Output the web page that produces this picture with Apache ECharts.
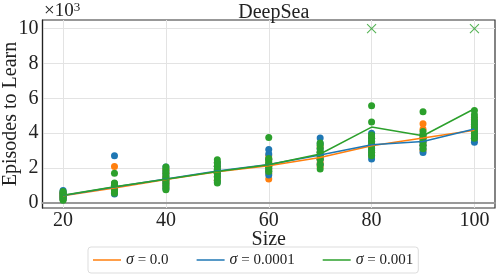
<!DOCTYPE html>
<html><head><meta charset="utf-8">
<script src="https://cdn.jsdelivr.net/npm/echarts@6/dist/echarts.min.js"></script>
<style>html,body{margin:0;padding:0;background:#fff}#c{width:498px;height:276px}</style>
</head><body><div id="c"></div>
<script>
const sizes = [20, 30, 40, 50, 60, 70, 80, 90, 100];
const xTicks = [20, 40, 60, 80, 100];
const yTicks = [0, 2000, 4000, 6000, 8000, 10000];
const seriesNames = ['σ = 0.0', 'σ = 0.0001', 'σ = 0.001'];
const colors = ['#ff7f0e', '#1f77b4', '#2ca02c'];

// episodes-to-learn per seed, one list per size (same order as sizes)
const runsSigma0 = [
  [200, 300, 350, 400, 450, 500, 550, 600],
  [600, 750, 850, 900, 1000, 1100, 2090],
  [900, 1100, 1200, 1300, 1400, 1500, 1700, 1900],
  [1300, 1500, 1700, 1800, 1900, 2100, 2300],
  [1360, 1700, 1900, 2100, 2300, 2500, 2700],
  [2100, 2300, 2500, 2700, 2900, 3200],
  [2700, 2900, 3100, 3300, 3500, 3800],
  [3000, 3300, 3500, 3700, 3900, 4230, 4540],
  [3600, 3800, 4000, 4200, 4400, 4600, 4800]
];
const runsSigma1e4 = [
  [200, 300, 400, 500, 600, 700],
  [500, 700, 800, 900, 1000, 1100, 2700],
  [800, 1000, 1200, 1400, 1600, 1800, 2050],
  [1200, 1500, 1700, 1900, 2100, 2300],
  [1600, 1800, 2000, 2200, 2500, 2800, 3060],
  [2200, 2500, 2700, 2900, 3100, 3400, 3720],
  [2510, 2800, 3000, 3200, 3500, 3700, 4000],
  [2890, 3100, 3300, 3500, 3700, 3900],
  [3470, 3700, 3900, 4100, 4300, 4500, 4700]
];
const runsSigma1e3 = [
  [150, 250, 350, 450, 550, 650],
  [550, 700, 800, 900, 1000, 1130, 1700],
  [750, 900, 1100, 1300, 1500, 1700, 1900, 2050],
  [1130, 1300, 1500, 1700, 1900, 2100, 2300, 2470],
  [1800, 1950, 2100, 2250, 2400, 2550, 3750],
  [1940, 2200, 2500, 2700, 2900, 3100, 3300, 3430],
  [2700, 2900, 3100, 3300, 3500, 3700, 3900, 4640, 5570],
  [3100, 3300, 3500, 3700, 3900, 4100, 5230],
  [3700, 3900, 4100, 4300, 4500, 4700, 4900, 5060, 5300]
];
// runs that did not learn (capped), sigma = 0.001
const failSizes = [80, 100];
const failValues = [10000, 10000];

// mean lines
const meanSigma0 = [400, 850, 1330, 1780, 2130, 2600, 3280, 3720, 4170];
const meanSigma1e4 = [420, 900, 1370, 1830, 2200, 2750, 3330, 3520, 4240];
const meanSigma1e3 = [430, 920, 1350, 1800, 2180, 2800, 4350, 3850, 5400];

const runs = [runsSigma0, runsSigma1e4, runsSigma1e3];
const means = [meanSigma0, meanSigma1e4, meanSigma1e3];

const font = 'Liberation Serif';
const series = [];
runs.forEach((r, i) => {
  const pts = [];
  r.forEach((vals, k) => vals.forEach(v => pts.push([sizes[k], v])));
  series.push({
    type: 'scatter', name: 'pts' + i, data: pts, symbolSize: 7,
    itemStyle: { color: colors[i], opacity: 1 }, z: 2, silent: true
  });
});
series.push({
  type: 'scatter', name: 'fail', data: failSizes.map((s, k) => [s, failValues[k]]),
  symbol: 'path://M0,0L10,10M10,0L0,10', symbolSize: 9,
  itemStyle: { color: 'transparent', borderColor: colors[2], borderWidth: 1.1 }, z: 3
});
means.forEach((m, i) => {
  series.push({
    type: 'line', name: seriesNames[i], data: m.map((v, k) => [sizes[k], v]),
    symbol: 'none', lineStyle: { color: colors[i], width: 1.5 }, itemStyle: { color: colors[i] },
    z: 4 + i
  });
});

const chart = echarts.init(document.getElementById('c'), null, { renderer: 'canvas' });
chart.setOption({
  animation: false,
  backgroundColor: '#fff',
  title: {
    text: 'DeepSea', left: 268.75, top: -2, textAlign: 'center',
    textStyle: { fontFamily: font, fontWeight: 'normal', fontSize: 20, color: '#222' }
  },
  grid: { left: 42.5, right: 3, top: 20, bottom: 68, show: true, borderColor: '#333', borderWidth: 1.2,
    containLabel: false, outerBoundsMode: 'none' },
  xAxis: {
    type: 'value', min: 16, max: 104,
    name: 'Size', nameLocation: 'middle', nameGap: 22, nameMoveOverlap: false,
    nameTextStyle: { fontFamily: font, fontSize: 20, color: '#222' },
    axisLine: { show: true, lineStyle: { color: '#999', width: 2 } },
    axisTick: { show: false, customValues: xTicks },
    axisLabel: { customValues: xTicks, fontFamily: font, fontSize: 20, color: '#222', margin: 3 },
    splitLine: { show: true, lineStyle: { color: '#e3e3e3', width: 1 } }
  },
  yAxis: {
    type: 'value', min: -300, max: 10500,
    name: 'Episodes to Learn', nameLocation: 'middle', nameGap: 22, nameMoveOverlap: false,
    nameTextStyle: { fontFamily: font, fontSize: 20, color: '#222' },
    axisLine: { show: true, lineStyle: { color: '#222', width: 1.2 } },
    axisTick: { show: false, customValues: yTicks },
    axisLabel: { customValues: yTicks, fontFamily: font, fontSize: 20, color: '#222', margin: 4,
      formatter: v => String(Math.round(v / 1000)) },
    splitLine: { show: true, lineStyle: { color: '#e3e3e3', width: 1 } }
  },
  legend: {
    data: seriesNames, bottom: 3, left: 88, icon: 'rect', itemWidth: 28, itemHeight: 1.5, itemGap: 28,
    borderColor: '#ddd', borderWidth: 1, borderRadius: 3, padding: [5, 5, 5, 5],
    textStyle: { fontFamily: font, fontSize: 15, color: '#222',
      rich: { i: { fontFamily: font, fontStyle: 'italic', fontSize: 16, color: '#222' } } },
    formatter: n => '{i|σ}' + n.slice(1)
  },
  graphic: [{
    type: 'text', left: 44, top: 1,
    style: {
      text: '×10{s|3}', fontFamily: font, fontSize: 19, fill: '#222',
      rich: { s: { fontFamily: font, fontSize: 13, verticalAlign: 'top', padding: [0, 0, 8, 0] } }
    }
  }],
  series
});
</script></body></html>
